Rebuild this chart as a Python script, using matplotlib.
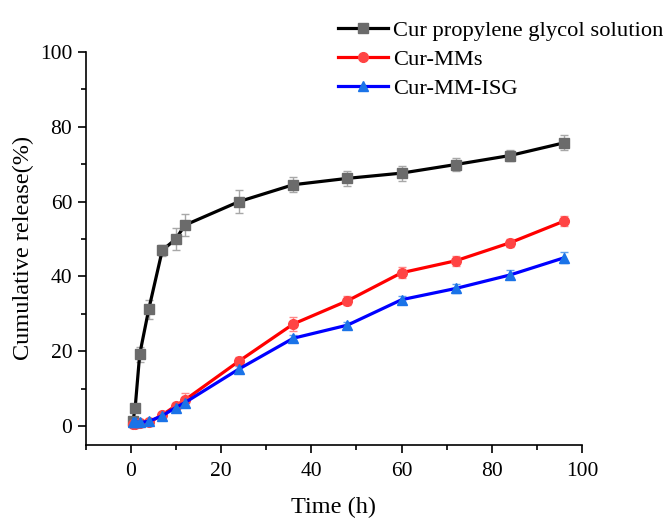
import matplotlib
matplotlib.use("Agg")
import matplotlib.pyplot as plt

time_h = [0.5, 1, 2, 4, 7, 10, 12, 24, 36, 48, 60, 72, 84, 96]

pg_mean = [1.3, 5.0, 19.2, 31.2, 47.0, 50.0, 53.7, 60.0, 64.5, 66.2, 67.6, 69.9, 72.3, 75.7]
pg_err = [0.8, 1.0, 2.0, 2.5, 1.5, 3.0, 3.0, 3.0, 2.0, 2.0, 2.0, 1.8, 1.5, 2.0]

mm_mean = [0.5, 0.5, 0.8, 1.0, 3.0, 5.5, 7.0, 17.4, 27.3, 33.5, 41.0, 44.2, 49.0, 54.8]
mm_err = [0.5, 0.5, 0.5, 0.5, 0.6, 0.8, 1.8, 1.2, 1.8, 1.2, 1.5, 1.3, 1.0, 1.3]

isg_mean = [1.0, 1.2, 1.0, 1.3, 2.8, 5.0, 6.3, 15.3, 23.5, 27.0, 33.8, 36.8, 40.4, 45.0]
isg_err = [0.5, 0.5, 0.5, 0.5, 0.5, 0.6, 0.8, 0.8, 0.8, 0.8, 1.0, 1.2, 1.2, 1.5]

labels = ["Cur propylene glycol solution", "Cur-MMs", "Cur-MM-ISG"]

plt.rcParams['font.family'] = ['Liberation Serif', 'DejaVu Serif']
plt.rcParams['mathtext.fontset'] = 'stix'

fig = plt.figure(figsize=(6.68, 5.18), dpi=100)
ax = fig.add_axes([0.128, 0.141, 0.7437, 0.759])

series = [
    (pg_mean, pg_err, 'black', 's', '#6b6b6b', '#a8a8a8'),
    (mm_mean, mm_err, '#ff0000', 'o', '#ff4444', '#ff8888'),
    (isg_mean, isg_err, '#0000ff', '^', '#1a73e8', '#5fa0ee'),
]
handles = []
for (m, e, lc, mk, mc, ec), lab in zip(series, labels):
    ax.errorbar(time_h, m, yerr=e, fmt='none', ecolor=ec, elinewidth=1.0,
                capsize=3, capthick=1.0, zorder=2)
    h, = ax.plot(time_h, m, color=lc, lw=2.3, marker=mk, markersize=7,
                 markerfacecolor=mc, markeredgecolor=mc, label=lab, zorder=3)
    handles.append(h)

ax.set_xlim(-10, 100)
ax.set_ylim(-5, 100)
ax.set_xticks([0, 20, 40, 60, 80, 100])
ax.set_yticks([0, 20, 40, 60, 80, 100])
ax.set_xticks([-10, 10, 30, 50, 70, 90], minor=True)
ax.set_yticks([10, 30, 50, 70, 90], minor=True)
ax.spines['top'].set_visible(False)
ax.spines['right'].set_visible(False)
for s in ['left', 'bottom']:
    ax.spines[s].set_linewidth(1.2)
ax.tick_params(axis='both', which='major', direction='out', length=6, width=1.2,
               labelsize=15.5)
ax.tick_params(axis='x', which='major', pad=6.5)
ax.tick_params(axis='both', which='minor', direction='out', length=3.5, width=1.2)

ax.set_xlabel('Time (h)', fontsize=17.5, labelpad=11)
ax.set_ylabel('Cumulative release(%)', fontsize=17.5, labelpad=4)

fig.legend(handles=handles, loc='upper left', bbox_to_anchor=(0.492, 0.978),
           frameon=False, fontsize=16.2, handlelength=2.25, handletextpad=0.2,
           labelspacing=0.36, borderaxespad=0)

fig.savefig('out.png', dpi=100)
